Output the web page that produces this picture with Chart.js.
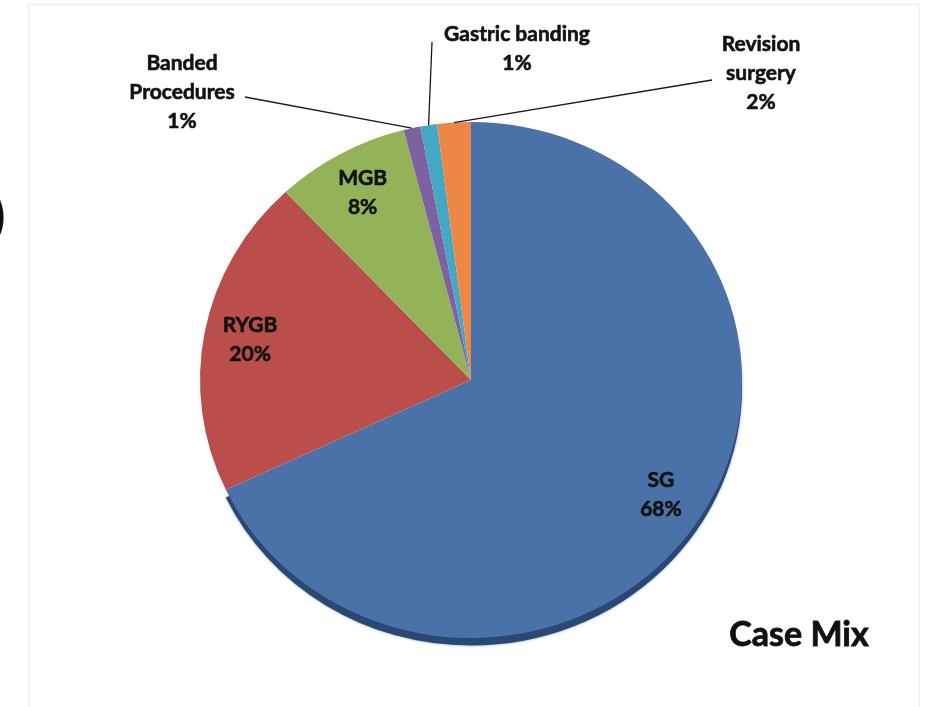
<!DOCTYPE html>
<html>
<head>
<meta charset="utf-8">
<title>Case Mix</title>
<script src="https://cdn.jsdelivr.net/npm/chart.js@4/dist/chart.umd.min.js"></script>
<style>
  html, body { margin: 0; padding: 0; background: #fff; }
  #wrap { position: relative; width: 925px; height: 707px; }
</style>
</head>
<body>
<div id="wrap"><canvas id="caseMix" width="925" height="707"></canvas></div>
<script>
// Procedure shares, clockwise from 12 o'clock
const categories = ['SG', 'RYGB', 'MGB', 'Banded Procedures', 'Gastric banding', 'Revision surgery'];
const shares = [68, 20, 8, 1, 1, 2];
const labelLines = [['SG'], ['RYGB'], ['MGB'], ['Banded', 'Procedures'], ['Gastric banding'], ['Revision', 'surgery']];
const sliceColors = ['#4a72a8', '#b94e4b', '#94b257', '#7e61a1', '#44a8c4', '#ec8745'];

const FONT = 'Lato, "Liberation Sans", sans-serif';
const SQUASH = 0.952;        // slight vertical tilt of the pie
const LINE_H = 29;

// slices 3..5 get their text outside with a leader line
const outside = {
  3: { x: 182, y: 63, lineFrom: [245, 97] },
  4: { x: 517, y: 34, lineFrom: [432, 42] },
  5: { x: 761, y: 44, lineFrom: [712, 80] }
};

function pieCenter(chart) {
  const a = chart.getDatasetMeta(0).data[0];
  return { x: a.x, y: a.y, r: a.outerRadius };
}

// point on the (squashed) rim / interior for a given angle and radius fraction
function polar(chart, angle, frac) {
  const c = pieCenter(chart);
  return {
    x: c.x + Math.cos(angle) * c.r * frac,
    y: c.y + Math.sin(angle) * c.r * frac * SQUASH
  };
}

// heavy text: fill plus a thin stroke of the same colour
function boldText(ctx, t, x, y) {
  ctx.strokeText(t, x, y);
  ctx.fillText(t, x, y);
}

const tiltPlugin = {
  id: 'tilt',
  beforeDatasetsDraw(chart) {
    const ctx = chart.ctx;
    const arcs = chart.getDatasetMeta(0).data;
    const c = pieCenter(chart);
    ctx.save();
    ctx.translate(c.x, c.y);
    ctx.scale(1, SQUASH);
    ctx.translate(-c.x, -c.y);

    // darker rim under the big slice for a bit of depth
    const sg = arcs[0];
    ctx.save();
    ctx.fillStyle = '#2a4874';
    ctx.shadowColor = 'rgba(20,40,70,0.45)';
    ctx.shadowBlur = 3;
    ctx.beginPath();
    ctx.moveTo(sg.x, sg.y + 8);
    ctx.arc(sg.x, sg.y + 8, sg.outerRadius, sg.startAngle, sg.endAngle);
    ctx.closePath();
    ctx.fill();
    ctx.restore();
  },
  afterDatasetsDraw(chart) {
    chart.ctx.restore();
  }
};

const labelPlugin = {
  id: 'sliceLabels',
  afterDraw(chart) {
    const ctx = chart.ctx;
    const arcs = chart.getDatasetMeta(0).data;
    ctx.save();

    // faint frame around the figure (left, top, right)
    ctx.strokeStyle = '#f0f0f0';
    ctx.lineWidth = 1.5;
    ctx.beginPath();
    ctx.moveTo(28.5, 707);
    ctx.lineTo(28.5, 4.5);
    ctx.lineTo(919.5, 4.5);
    ctx.lineTo(919.5, 707);
    ctx.stroke();

    ctx.fillStyle = '#111';
    ctx.strokeStyle = '#111';
    ctx.lineWidth = 0.6;
    ctx.textAlign = 'center';
    ctx.textBaseline = 'middle';
    ctx.font = 'bold 21px ' + FONT;

    arcs.forEach((arc, i) => {
      const lines = labelLines[i].concat([shares[i] + '%']);
      const mid = (arc.startAngle + arc.endAngle) / 2;
      if (outside[i]) {
        const o = outside[i];
        lines.forEach((t, k) => boldText(ctx, t, o.x, o.y + k * LINE_H));
        const edge = polar(chart, mid, 1);
        ctx.save();
        ctx.strokeStyle = '#1a1a1a';
        ctx.lineWidth = 1.3;
        ctx.beginPath();
        ctx.moveTo(o.lineFrom[0], o.lineFrom[1]);
        ctx.lineTo(edge.x, edge.y);
        ctx.stroke();
        ctx.restore();
      } else {
        const p = polar(chart, mid, 0.83);
        const top = p.y - (lines.length - 1) * LINE_H / 2;
        lines.forEach((t, k) => boldText(ctx, t, p.x, top + k * LINE_H));
      }
    });

    // chart caption
    ctx.font = 'bold 34px ' + FONT;
    ctx.lineWidth = 0.8;
    boldText(ctx, 'Case Mix', 799, 635);

    // cut-off panel letter at the left edge
    ctx.font = '52px ' + FONT;
    ctx.textAlign = 'right';
    ctx.fillText(')', 6, 217);
    ctx.restore();
  }
};

new Chart(document.getElementById('caseMix'), {
  type: 'pie',
  data: {
    labels: categories,
    datasets: [{
      data: shares,
      backgroundColor: sliceColors,
      borderWidth: 0,
      clip: false
    }]
  },
  options: {
    responsive: false,
    animation: false,
    events: [],
    layout: { padding: { left: 200, right: 183, top: 109, bottom: 56 } },
    plugins: {
      legend: { display: false },
      tooltip: { enabled: false }
    }
  },
  plugins: [tiltPlugin, labelPlugin]
});
</script>
</body>
</html>
